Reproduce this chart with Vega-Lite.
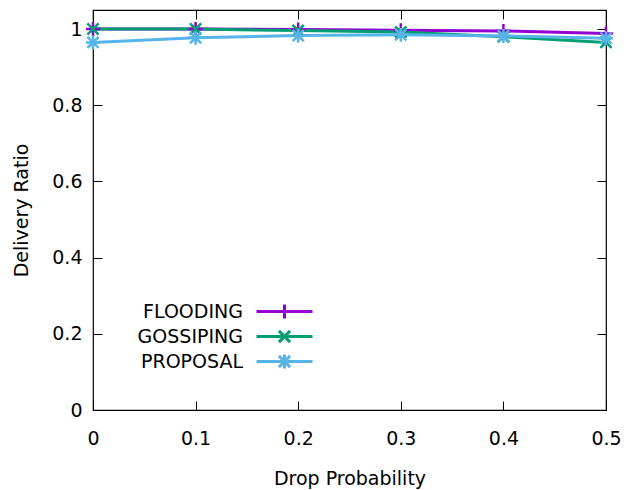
{
  "$schema": "https://vega.github.io/schema/vega-lite/v6.json",
  "width": 513,
  "height": 400,
  "autosize": {"type": "none"},
  "padding": {"left": 93, "top": 10, "right": 18, "bottom": 80},
  "config": {
    "font": "DejaVu Sans",
    "view": {"stroke": "black", "strokeWidth": 1.2},
    "axis": {
      "grid": false,
      "domain": false,
      "tickColor": "black",
      "tickSize": -9,
      "tickWidth": 1,
      "labelFlush": false,
      "labelOverlap": false,
      "labelFontSize": 19,
      "labelColor": "black",
      "titleFontSize": 19,
      "titleFontWeight": "normal",
      "titleColor": "black",
      "labelFont": "DejaVu Sans",
      "titleFont": "DejaVu Sans"
    }
  },
  "data": {
    "values": [
      {"p": 0.0, "method": "FLOODING", "ratio": 1.0},
      {"p": 0.1, "method": "FLOODING", "ratio": 1.0},
      {"p": 0.2, "method": "FLOODING", "ratio": 0.999},
      {"p": 0.3, "method": "FLOODING", "ratio": 0.997},
      {"p": 0.4, "method": "FLOODING", "ratio": 0.995},
      {"p": 0.5, "method": "FLOODING", "ratio": 0.988},
      {"p": 0.0, "method": "GOSSIPING", "ratio": 1.0},
      {"p": 0.1, "method": "GOSSIPING", "ratio": 1.0},
      {"p": 0.2, "method": "GOSSIPING", "ratio": 0.996},
      {"p": 0.3, "method": "GOSSIPING", "ratio": 0.992},
      {"p": 0.4, "method": "GOSSIPING", "ratio": 0.98},
      {"p": 0.5, "method": "GOSSIPING", "ratio": 0.965},
      {"p": 0.0, "method": "PROPOSAL", "ratio": 0.965},
      {"p": 0.1, "method": "PROPOSAL", "ratio": 0.977},
      {"p": 0.2, "method": "PROPOSAL", "ratio": 0.983},
      {"p": 0.3, "method": "PROPOSAL", "ratio": 0.985},
      {"p": 0.4, "method": "PROPOSAL", "ratio": 0.982},
      {"p": 0.5, "method": "PROPOSAL", "ratio": 0.976}
    ]
  },
  "resolve": {"axis": {"x": "independent", "y": "independent"}},
  "layer": [
    {
      "mark": {"type": "line", "strokeWidth": 3},
      "encoding": {
        "x": {
          "field": "p", "type": "quantitative",
          "scale": {"domain": [0, 0.5], "nice": false, "zero": false},
          "axis": {"orient": "bottom", "values": [0, 0.1, 0.2, 0.3, 0.4, 0.5], "title": "Drop Probability", "labelPadding": 28, "titlePadding": 21, "format": "~g"}
        },
        "y": {
          "field": "ratio", "type": "quantitative",
          "scale": {"domain": [0, 1.05], "nice": false},
          "axis": {"orient": "left", "values": [0, 0.2, 0.4, 0.6, 0.8, 1], "title": "Delivery Ratio", "labelPadding": 20, "titlePadding": 20, "format": "~g"}
        },
        "color": {
          "field": "method", "type": "nominal",
          "scale": {"domain": ["FLOODING", "GOSSIPING", "PROPOSAL"], "range": ["#9400d3", "#009e73", "#56b4e9"]},
          "legend": {
            "orient": "none",
            "legendX": 182,
            "legendY": 292,
            "title": null,
            "padding": 0,
            "labelFontSize": 19,
            "labelColor": "black",
            "labelAlign": "right",
            "labelOffset": -51,
            "symbolSize": 196,
            "symbolStrokeWidth": 3,
            "rowPadding": -1,
            "symbolType": "M-4,0H4M0,-1V1",
            "encode": {
              "symbols": {
                "update": {
                  "shape": {"signal": "datum.value === 'FLOODING' ? 'M-4,0H4M0,-1V1' : datum.value === 'GOSSIPING' ? 'M-4,0H4M-0.8,-0.8L0.8,0.8M-0.8,0.8L0.8,-0.8' : 'M-4,0H4M0,-1V1M-0.8,-0.8L0.8,0.8M-0.8,0.8L0.8,-0.8'"},
                  "fill": {"value": "transparent"},
                  "strokeWidth": {"value": 3}
                }
              }
            }
          }
        }
      }
    },
    {
      "transform": [{"filter": "datum.method === 'FLOODING'"}],
      "mark": {"type": "point", "filled": false, "strokeWidth": 2.5, "size": 196, "opacity": 1, "shape": "M-1,0H1M0,-1V1"},
      "encoding": {
        "x": {"field": "p", "type": "quantitative", "axis": {"orient": "top", "labels": false, "title": null, "values": [0, 0.1, 0.2, 0.3, 0.4, 0.5]}},
        "y": {"field": "ratio", "type": "quantitative", "axis": {"orient": "right", "labels": false, "title": null, "values": [0, 0.2, 0.4, 0.6, 0.8, 1]}},
        "color": {"field": "method", "type": "nominal", "legend": null}
      }
    },
    {
      "transform": [{"filter": "datum.method === 'GOSSIPING'"}],
      "mark": {"type": "point", "filled": false, "strokeWidth": 2.5, "size": 196, "opacity": 1, "shape": "M-0.8,-0.8L0.8,0.8M-0.8,0.8L0.8,-0.8"},
      "encoding": {
        "x": {"field": "p", "type": "quantitative", "axis": null},
        "y": {"field": "ratio", "type": "quantitative", "axis": null},
        "color": {"field": "method", "type": "nominal", "legend": null}
      }
    },
    {
      "transform": [{"filter": "datum.method === 'PROPOSAL'"}],
      "mark": {"type": "point", "filled": false, "strokeWidth": 2.5, "size": 196, "opacity": 1, "shape": "M-1,0H1M0,-1V1M-0.8,-0.8L0.8,0.8M-0.8,0.8L0.8,-0.8"},
      "encoding": {
        "x": {"field": "p", "type": "quantitative", "axis": null},
        "y": {"field": "ratio", "type": "quantitative", "axis": null},
        "color": {"field": "method", "type": "nominal", "legend": null}
      }
    }
  ]
}
